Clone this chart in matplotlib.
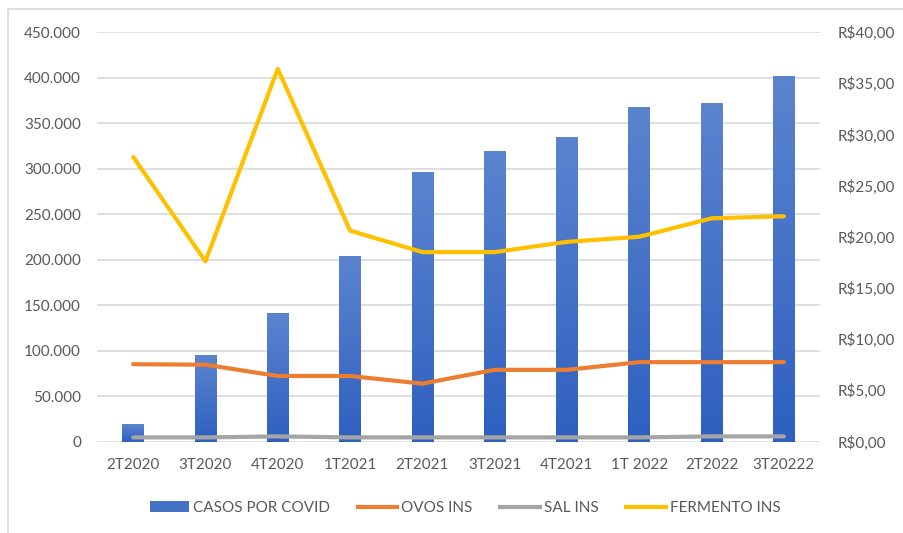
import matplotlib
matplotlib.use("Agg")
import matplotlib.pyplot as plt
import numpy as np
from matplotlib.patches import Patch
from matplotlib.lines import Line2D
from matplotlib.ticker import FuncFormatter, FixedLocator
from matplotlib.colors import LinearSegmentedColormap

# ---------------- data ----------------
categories = ["2T2020", "3T2020", "4T2020", "1T2021", "2T2021",
              "3T2021", "4T2021", "1T 2022", "2T2022", "3T20222"]
casos = [19000, 95500, 141500, 204000, 296000, 319000, 334500, 368000, 372500, 401500]
ovos = [7.55, 7.50, 6.40, 6.40, 5.65, 7.00, 7.00, 7.75, 7.75, 7.75]
sal = [0.40, 0.40, 0.50, 0.40, 0.40, 0.40, 0.40, 0.40, 0.50, 0.50]
fermento = [27.8, 17.6, 36.4, 20.6, 18.5, 18.5, 19.5, 20.0, 21.8, 22.0]
left_ticks = [0, 50000, 100000, 150000, 200000, 250000, 300000, 350000, 400000, 450000]
right_ticks = [0, 5, 10, 15, 20, 25, 30, 35, 40]
legend_labels = ["CASOS POR COVID", "OVOS INS", "SAL INS", "FERMENTO INS"]

# ---------------- style ----------------
FONT = "Lato"
TXT = "#595959"
GRID = "#D9D9D9"
BAR_TOP = "#5B84CF"
BAR_BOT = "#2F60C0"
C_OVOS = "#ED7D31"
C_SAL = "#A5A5A5"
C_FERM = "#FFC000"
plt.rcParams["font.family"] = [FONT, "DejaVu Sans"]
plt.rcParams["font.size"] = 11

W, H = 904, 533
fig = plt.figure(figsize=(W / 100, H / 100), dpi=100)
ax = fig.add_axes([97 / W, 1 - 441.5 / H, (820 - 97) / W, (441.5 - 32) / H])
ax2 = ax.twinx()

x = np.arange(len(categories))
bars = ax.bar(x, casos, width=0.30, color=BAR_BOT, zorder=2)
cmap = LinearSegmentedColormap.from_list("g", [BAR_BOT, BAR_TOP])
grad = np.linspace(0, 1, 256).reshape(-1, 1)
for b in bars:
    bx, bw, bh = b.get_x(), b.get_width(), b.get_height()
    im = ax.imshow(grad, extent=(bx, bx + bw, 0, bh), origin="lower",
                   cmap=cmap, aspect="auto", zorder=2.1)
    im.set_clip_path(b)

ax.set_xlim(-0.5, len(categories) - 0.5)
ax.set_ylim(left_ticks[0], left_ticks[-1])
ax.yaxis.set_major_locator(FixedLocator(left_ticks))
ax.yaxis.set_major_formatter(FuncFormatter(lambda v, p: f"{int(v):,}".replace(",", ".")))
ax.set_xticks(x)
ax.set_xticklabels(categories)
ax.grid(axis="y", color=GRID, linewidth=1.2, zorder=0)
ax.set_axisbelow(True)
for s in ax.spines.values():
    s.set_visible(False)
for s in ax2.spines.values():
    s.set_visible(False)
ax.tick_params(axis="both", length=0, colors=TXT, labelsize=11)
ax.tick_params(axis="y", pad=11.5)
ax.tick_params(axis="x", pad=12)

for vals, col in [(ovos, C_OVOS), (sal, C_SAL), (fermento, C_FERM)]:
    ax2.plot(x, vals, color=col, linewidth=3.0, solid_capstyle="round",
             solid_joinstyle="round", zorder=3)

ax2.set_ylim(right_ticks[0], right_ticks[-1])
ax2.yaxis.set_major_locator(FixedLocator(right_ticks))
ax2.yaxis.set_major_formatter(FuncFormatter(lambda v, p: f"R${v:.2f}".replace(".", ",")))
ax2.tick_params(axis="y", length=0, colors=TXT, labelsize=11, pad=12.5)

handles = [Patch(facecolor="#4472C4", edgecolor="none"),
           Line2D([], [], color=C_OVOS, linewidth=3.0),
           Line2D([], [], color=C_SAL, linewidth=3.0),
           Line2D([], [], color=C_FERM, linewidth=3.0)]
leg = fig.legend(handles, legend_labels, loc="center", ncol=4,
                 bbox_to_anchor=(465 / W, 1 - 508 / H), frameon=False,
                 handlelength=2.6, handletextpad=0.25, columnspacing=1.8,
                 fontsize=11)
for t in leg.get_texts():
    t.set_color(TXT)

# outer chart frame (left and top edges visible)
fig.add_artist(Line2D([7.5 / W, 7.5 / W], [0, 1 - 9 / H], transform=fig.transFigure,
                      color=GRID, linewidth=1.2))
fig.add_artist(Line2D([7.5 / W, 1], [1 - 9 / H, 1 - 9 / H], transform=fig.transFigure,
                      color=GRID, linewidth=1.2))

fig.savefig("out.png", dpi=100, facecolor="white")
